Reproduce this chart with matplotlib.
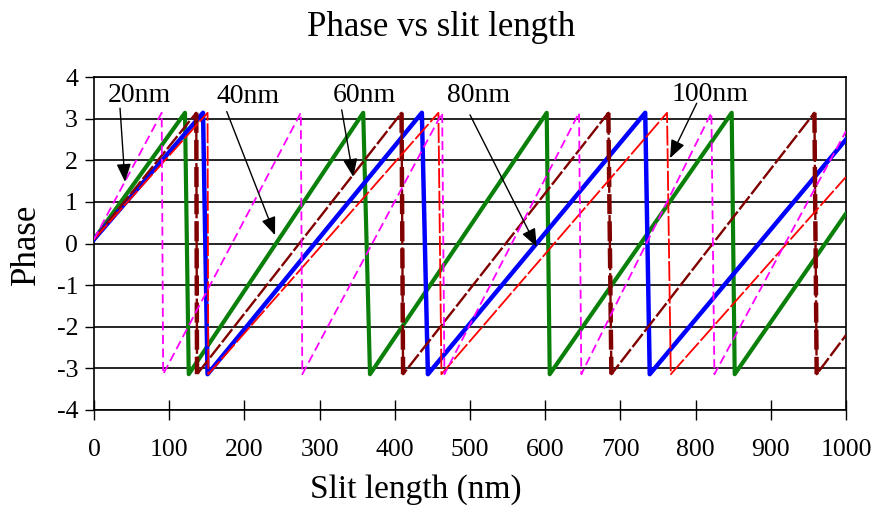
import numpy as np
import matplotlib
matplotlib.use("Agg")
import matplotlib.pyplot as plt

plt.rcParams['font.family'] = ['Liberation Serif', 'DejaVu Serif']
plt.rcParams['axes.unicode_minus'] = False

PI = 3.14

# Sawtooth vertices: (x at top of wrap, x at bottom of wrap)
series_names = ["20nm", "40nm", "60nm", "80nm", "100nm"]
start_phase = [0.1, 0.1, 0.1, 0.1, 0.1]
wrap_top_20 = [90, 275, 463, 645, 821]
wrap_bot_20 = [92, 277, 466, 648, 825]
end_20 = 2.7
wrap_top_40 = [121, 358, 602, 848]
wrap_bot_40 = [126, 367, 606, 852]
end_40 = 0.72
wrap_top_60 = [136, 409, 684, 958]
wrap_bot_60 = [137, 411, 688, 961]
end_60 = -2.2
wrap_top_80 = [145, 436, 733]
wrap_bot_80 = [151, 444, 739]
end_80 = 2.5
wrap_top_100 = [151, 458, 762]
wrap_bot_100 = [152, 462, 767]
end_100 = 1.6

x_ticks = [0, 100, 200, 300, 400, 500, 600, 700, 800, 900, 1000]
y_ticks = [-4, -3, -2, -1, 0, 1, 2, 3, 4]

# annotation labels: text position, arrow tail, arrow head
label_pos = [(61, 3.55), (205, 3.52), (359, 3.55), (512, 3.55), (819, 3.57)]
arrow_tail = [(34.6, 3.25), (176.5, 3.17), (329.4, 3.21), (500, 3.09), (801.5, 3.37)]
arrow_head = [(41.2, 1.48), (240.7, 0.2), (344.8, 1.60), (588.7, -0.08), (766, 2.05)]


def build(start, tops, bots, end):
    xs = [0]
    ys = [start]
    for t, b in zip(tops, bots):
        xs += [t, b]
        ys += [PI, -PI]
    xs.append(1000)
    ys.append(end)
    return np.array(xs, float), np.array(ys, float)


fig = plt.figure(figsize=(8.87, 5.12), dpi=100)
ax = fig.add_axes([94 / 887, 1 - 410 / 512, (846 - 94) / 887, (410 - 77) / 512])

for yv in y_ticks:
    ax.axhline(yv, color='black', lw=1.2, zorder=1)

x20, y20 = build(start_phase[0], wrap_top_20, wrap_bot_20, end_20)
x40, y40 = build(start_phase[1], wrap_top_40, wrap_bot_40, end_40)
x60, y60 = build(start_phase[2], wrap_top_60, wrap_bot_60, end_60)
x80, y80 = build(start_phase[3], wrap_top_80, wrap_bot_80, end_80)
x100, y100 = build(start_phase[4], wrap_top_100, wrap_bot_100, end_100)

ax.plot(x40, y40, color='#0a800a', lw=3.0, zorder=3, solid_joinstyle='round')
ax.plot(x80, y80, color='#0000ff', lw=3.2, zorder=4, solid_joinstyle='round')
ax.plot(x60, y60, color='#800000', lw=1.7, zorder=5, dashes=(7, 1.2))
# thick dashed wraps for the 60nm series
for t, b in zip(wrap_top_60, wrap_bot_60):
    ax.plot([t, b], [PI, -PI], color='#800000', lw=3.2, dashes=(4.5, 1.6), zorder=5)
ax.plot(x100, y100, color='#ff0000', lw=1.3, zorder=6, dashes=(11, 1.5))
ax.plot(x20, y20, color='#ff00ff', lw=1.3, zorder=7, dashes=(5, 2.5))

for name, tp, tl, hd in zip(series_names, label_pos, arrow_tail, arrow_head):
    ax.text(tp[0], tp[1], name, fontsize=20, ha='center', va='center', zorder=10)
    ax.annotate('', xy=hd, xytext=tl,
                arrowprops=dict(arrowstyle='-|>,head_length=0.55,head_width=0.22',
                                lw=1.0, color='black', shrinkA=0, shrinkB=0,
                                mutation_scale=20), zorder=10)

ax.set_xlim(0, 1000)
ax.set_ylim(-4, 4)
ax.set_xticks(x_ticks)
ax.set_xticklabels([str(v) for v in x_ticks])
ax.set_yticks(y_ticks)
ax.set_yticklabels([str(v) for v in y_ticks])
ax.tick_params(axis='x', direction='inout', length=14, width=1.0, labelsize=18.5, pad=14)
ax.tick_params(axis='y', direction='out', length=6.5, width=1.0, labelsize=18.5, pad=5)
for s in ax.spines.values():
    s.set_linewidth(1.2)
    s.set_color('black')

fig.text(441 / 887, 1 - 28 / 512, "Phase vs slit length", fontsize=25, ha='center', va='center')
fig.text(416 / 887, 1 - 490 / 512, "Slit length (nm)", fontsize=24, ha='center', va='center')
fig.text(26 / 887, 1 - 244 / 512, "Phase", fontsize=25, ha='center', va='center', rotation=90)

fig.savefig("out.png", dpi=100, facecolor='white')
